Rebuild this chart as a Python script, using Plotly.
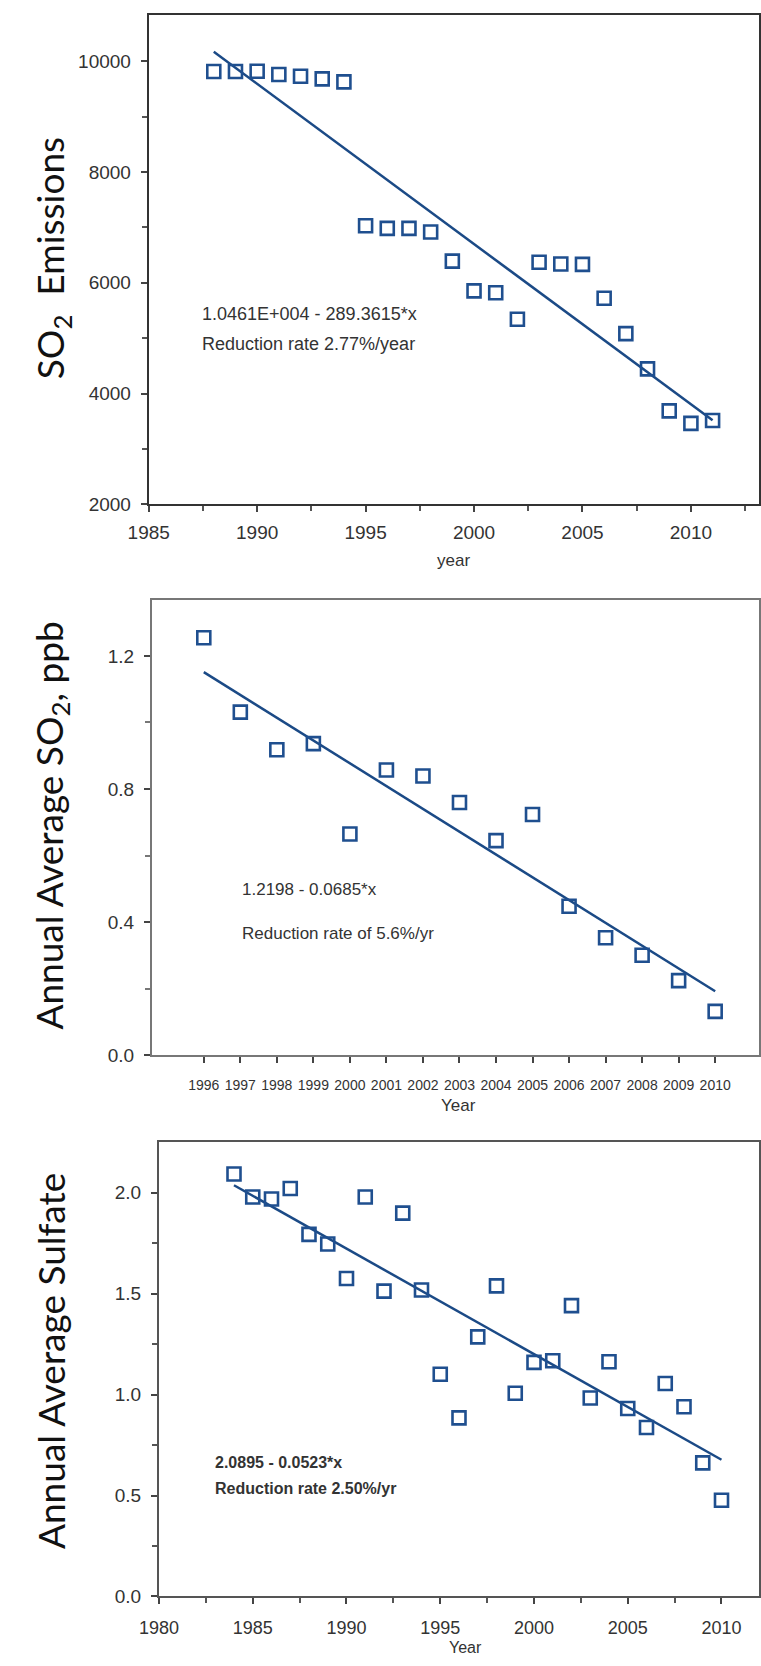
import plotly.graph_objects as go

# ---------------- data ----------------
years_emis = [1988, 1989, 1990, 1991, 1992, 1993, 1994, 1995, 1996, 1997, 1998, 1999,
              2000, 2001, 2002, 2003, 2004, 2005, 2006, 2007, 2008, 2009, 2010, 2011]
so2_emissions = [9814, 9814, 9820, 9761, 9728, 9681, 9628, 7030, 6983, 6983, 6917, 6392,
                 5854, 5821, 5342, 6372, 6339, 6332, 5721, 5083, 4445, 3688, 3462, 3515]
fit_emis = {"intercept": 10461.0, "slope": -289.3615, "x0": 1987}

years_so2 = list(range(1996, 2011))
so2_ppb = [1.2545, 1.031, 0.918, 0.9365, 0.665, 0.857, 0.839, 0.7595, 0.645, 0.7235,
           0.448, 0.353, 0.3005, 0.2244, 0.132]
fit_so2 = {"intercept": 1.2198, "slope": -0.0685, "x0": 1995}

years_sulf = list(range(1984, 2011))
sulfate = [2.093, 1.979, 1.969, 2.021, 1.794, 1.746, 1.575, 1.979, 1.513, 1.899, 1.518,
           1.101, 0.885, 1.286, 1.539, 1.007, 1.160, 1.168, 1.441, 0.983, 1.163, 0.931,
           0.837, 1.055, 0.940, 0.662, 0.477]
fit_sulf = {"intercept": 2.0895, "slope": -0.0523, "x0": 1983}

emis_ticks = [2000, 4000, 6000, 8000, 10000]
so2_ticks = [0.0, 0.4, 0.8, 1.2]
sulf_ticks = [0.0, 0.5, 1.0, 1.5, 2.0]

texts_emis = ["1.0461E+004 - 289.3615*x", "Reduction rate 2.77%/year"]
texts_so2 = ["1.2198 - 0.0685*x", "Reduction rate of 5.6%/yr"]
texts_sulf = ["2.0895 - 0.0523*x", "Reduction rate 2.50%/yr"]

W, H = 761, 1666
MARK = "#1f4f8f"
LINE = "#1b4a86"
FONT = "Liberation Sans, Arial, sans-serif"
TITLEFONT = "Lato, Open Sans, sans-serif"


def fitline(years, fit):
    xs = [years[0], years[-1]]
    ys = [fit["intercept"] + fit["slope"] * (x - fit["x0"]) for x in xs]
    return xs, ys


fig = go.Figure()
panels = [
    (years_emis, so2_emissions, fit_emis, "x", "y"),
    (years_so2, so2_ppb, fit_so2, "x2", "y2"),
    (years_sulf, sulfate, fit_sulf, "x3", "y3"),
]
for yrs, vals, fit, xa, ya in panels:
    lx, ly = fitline(yrs, fit)
    fig.add_trace(go.Scatter(x=lx, y=ly, mode="lines", xaxis=xa, yaxis=ya,
                             line=dict(color=LINE, width=2.5), showlegend=False,
                             hoverinfo="skip"))
    fig.add_trace(go.Scatter(x=yrs, y=vals, mode="markers", xaxis=xa, yaxis=ya,
                             marker=dict(symbol="square-open", size=13, color=MARK,
                                         line=dict(width=2.6, color=MARK)),
                             showlegend=False))


def px2x(p):
    return p / W


def px2y(p):
    return 1 - p / H


def common(size):
    return dict(showgrid=False, zeroline=False, showline=True, linewidth=2,
                ticks="outside", tickwidth=1.5, ticklen=6, tickcolor="#444",
                tickfont=dict(family=FONT, color="#333", size=size))


fig.update_layout(
    width=W, height=H, margin=dict(l=0, r=0, t=0, b=0),
    paper_bgcolor="white", plot_bgcolor="white",
    xaxis=dict(**common(19), domain=[px2x(131.7), 1.0], anchor="y",
               range=[1985, 2013.14], tickvals=[1985, 1990, 1995, 2000, 2005, 2010],
               ticktext=["1985", "1990", "1995", "2000", "2005", "2010"],
               linecolor="#333", mirror=True, ticklabelstandoff=4,
               minor=dict(ticks="outside", ticklen=5, tickcolor="#555",
                          tickvals=[1987.5, 1992.5, 1997.5, 2002.5, 2007.5, 2012.5])),
    yaxis=dict(**common(19), domain=[px2y(507.7), px2y(14.7)], anchor="x",
               range=[2000, 10842], tickvals=emis_ticks,
               ticktext=[str(v) for v in emis_ticks],
               linecolor="#333", mirror=True, ticklabelstandoff=6,
               minor=dict(ticks="outside", ticklen=5, tickcolor="#555",
                          tickvals=[3000, 5000, 7000, 9000])),
    xaxis2=dict(**common(14), domain=[px2x(135), 1.0], anchor="y2",
                range=[1994.58, 2011.2], tickvals=years_so2,
                ticktext=[str(y) for y in years_so2],
                linecolor="#777", mirror=True, ticklabelstandoff=10),
    yaxis2=dict(**common(19), domain=[px2y(1062.3), px2y(604.3)], anchor="x2",
                range=[0, 1.367], tickvals=so2_ticks,
                ticktext=[f"{v:.1f}" for v in so2_ticks],
                linecolor="#777", mirror=True, ticklabelstandoff=6,
                minor=dict(ticks="outside", ticklen=5, tickcolor="#777",
                           tickvals=[0.2, 0.6, 1.0])),
    xaxis3=dict(**common(18), domain=[px2x(142.3), 1.0], anchor="y3",
                range=[1980, 2012.0], tickvals=[1980, 1985, 1990, 1995, 2000, 2005, 2010],
                ticktext=["1980", "1985", "1990", "1995", "2000", "2005", "2010"],
                linecolor="#555", mirror=True, ticklabelstandoff=8,
                minor=dict(ticks="outside", ticklen=5, tickcolor="#555",
                           tickvals=[1982.5, 1987.5, 1992.5, 1997.5, 2002.5, 2007.5])),
    yaxis3=dict(**common(19), domain=[px2y(1607.1), px2y(1149.3)], anchor="x3",
                range=[0, 2.253], tickvals=sulf_ticks,
                ticktext=[f"{v:.1f}" for v in sulf_ticks],
                linecolor="#555", mirror=True, ticklabelstandoff=6,
                minor=dict(ticks="outside", ticklen=5, tickcolor="#555",
                           tickvals=[0.25, 0.75, 1.25, 1.75])),
)

ann = []
# fit-text annotations
for (txts, x, ys, bold, size) in [
    (texts_emis, 185, [316, 346], False, 18),
    (texts_so2, 226, [895, 940], False, 17),
    (texts_sulf, 198, [1472, 1498], True, 16),
]:
    for t, y in zip(txts, ys):
        ann.append(dict(text=f"<b>{t}</b>" if bold else t, x=px2x(x), y=px2y(y),
                        xref="paper", yref="paper", xanchor="left", yanchor="middle",
                        showarrow=False, font=dict(family=FONT, size=size, color="#333")))

# x-axis titles
for t, x, y, s in [("year", 446, 564, 17), ("Year", 451, 1113, 17), ("Year", 458, 1658, 16)]:
    ann.append(dict(text=t, x=px2x(x), y=px2y(y), xref="paper", yref="paper",
                    xanchor="center", yanchor="middle", showarrow=False,
                    font=dict(family=FONT, size=s, color="#333")))

# y-axis titles
for t, x, y in [("SO<sub>2</sub>  Emissions", 32, 260),
                ("Annual Average SO<sub>2</sub>, ppb", 31, 831),
                ("Annual Average Sulfate", 31, 1370)]:
    ann.append(dict(text=t, x=px2x(x), y=px2y(y), xref="paper", yref="paper",
                    xanchor="center", yanchor="middle", textangle=-90, showarrow=False,
                    font=dict(family=TITLEFONT, size=37, color="#111")))

fig.update_layout(annotations=ann)
fig.write_html("out.html")
